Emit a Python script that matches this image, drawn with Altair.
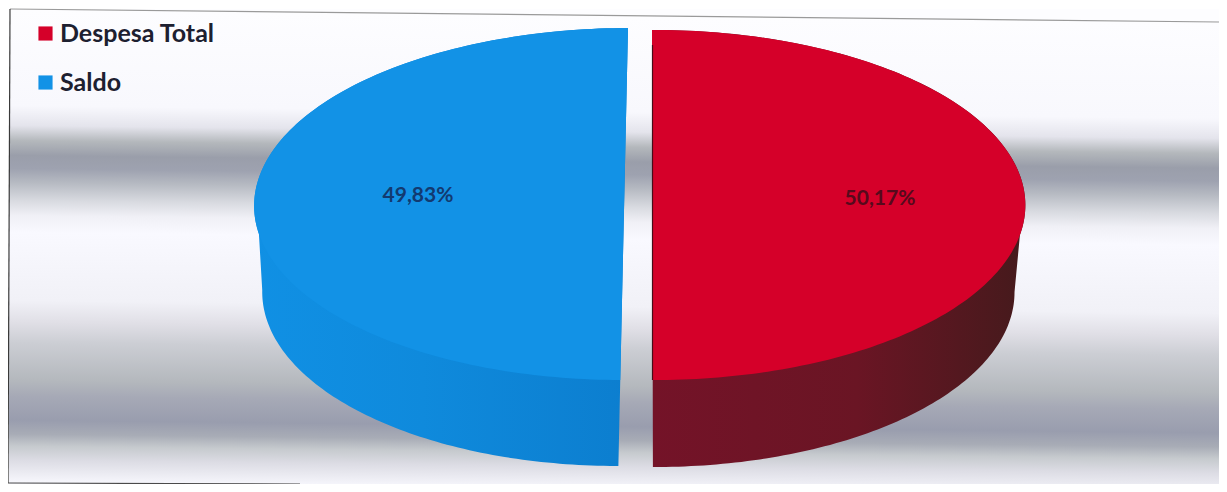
import numpy as np
import pandas as pd
import altair as alt

# --- values
categories = ["Despesa Total", "Saldo"]
shares = [50.17, 49.83]
labels = ["50,17%", "49,83%"]
top_colors = ["#d50029", "#1292e6"]
legend_font = "Lato"

W, H = 1211, 476
X0, Y0 = 8, 8
xs = alt.Scale(domain=[X0, X0 + W], nice=False, zero=False)
ys = alt.Scale(domain=[Y0 + H, Y0], nice=False, zero=False)
X = lambda f: alt.X(f, type="quantitative", scale=xs, axis=None)
Y = lambda f: alt.Y(f, type="quantitative", scale=ys, axis=None)

# geometry of the exploded, tilted pie (image pixel units)
geom = {
    "Despesa Total": dict(sign=1, cx=654, a=371, cy=205, b=175, cyb=292, ab=360, cxb=654, shear=0.002, label=(880, 199)),
    "Saldo": dict(sign=-1, cx=630, a=372, cy=204, b=176, cyb=290, ab=360, cxb=628, shear=-0.022, label=(418, 196)),
}


def slice_tables(cat, share):
    g = geom[cat]
    half = np.pi * share / 100
    y_ref = g["cy"] - g["b"]
    t = np.linspace(-half, half, 161)
    # top face
    y = g["cy"] + g["b"] * np.sin(t)
    sh = lambda v: g["shear"] * (v - y_ref)
    x = g["cx"] + g["sign"] * g["a"] * np.cos(t) + sh(y)
    end = g["cx"] + g["sign"] * g["a"] * np.cos(half)
    top = pd.DataFrame({"categoria": cat, "y": y, "x": x, "x2": end + sh(y)})
    # silhouette of face + side wall
    t1 = np.linspace(-half, np.arcsin(30 / g["b"]), 90)
    y1 = g["cy"] + g["b"] * np.sin(t1)
    x1 = g["cx"] + g["sign"] * g["a"] * np.cos(t1) + sh(y1)
    t2 = np.linspace(0, half, 90)
    y2 = g["cyb"] + g["b"] * np.sin(t2)
    x2 = g["cxb"] + g["sign"] * g["ab"] * np.cos(t2) + sh(y2)
    yy = np.r_[y1, y2]
    xx = np.r_[x1, x2]
    wall = pd.DataFrame({"categoria": cat, "y": yy, "x": xx, "x2": end + sh(yy)})
    return top, wall


tops, walls = zip(*(slice_tables(c, s) for c, s in zip(categories, shares)))

# --- background bands
band_stops = [
    (9, "#fdfdff"), (105, "#f8f8fd"), (125, "#e4e4ec"), (140, "#b4b8bc"), (155, "#9a9eaa"),
    (168, "#9ea2b0"), (182, "#b6bac2"), (200, "#d8dae0"), (215, "#f0f0f6"), (232, "#f9f9ff"),
    (300, "#f1f1f7"), (322, "#e0dfe6"), (342, "#ccced4"), (380, "#b4b8bd"), (396, "#a6a9b6"),
    (420, "#999dae"), (434, "#a8acb6"), (446, "#c6cace"), (460, "#dcdce4"), (480, "#f4f4fa"), (484, "#f9f9ff"),
]
bg_grad = alt.Gradient(
    gradient="linear", x1=0.027, x2=0, y1=0, y2=1,
    stops=[alt.GradientStop(offset=(y - Y0) / H, color=c) for y, c in band_stops],
)
bg = alt.Chart(pd.DataFrame({"a": [0]})).mark_rect(color=bg_grad).encode(
    x=alt.value(1), x2=alt.value(W), y=alt.value(1), y2=alt.value(H)
)

# frame drawn on three sides
frame_df = pd.DataFrame({
    "x": [10, 10, 8], "y": [9, 9, 483], "x1": [1219, 8, 300], "y1": [22, 483, 484],
    "c": ["#9a9a9a", "#3a3a3a", "#4a4a4a"],
})
frame = alt.Chart(frame_df).mark_rule(strokeWidth=1.2).encode(
    x=X("x"), y=Y("y"), x2="x1:Q", y2="y1:Q", color=alt.Color("c:N", scale=None)
)

# side walls
wall_red = alt.Chart(walls[0]).mark_area(
    orient="horizontal",
    color=alt.Gradient(gradient="linear", x1=0, x2=1, y1=0, y2=0,
                       stops=[alt.GradientStop(offset=0, color="#741328"),
                              alt.GradientStop(offset=0.55, color="#6a1524"),
                              alt.GradientStop(offset=1, color="#451a1c")]),
).encode(y=Y("y"), x=X("x"), x2="x2:Q")
wall_blue = alt.Chart(walls[1]).mark_area(
    orient="horizontal",
    color=alt.Gradient(gradient="linear", x1=0, x2=1, y1=0, y2=0,
                       stops=[alt.GradientStop(offset=0, color="#1090e4"),
                              alt.GradientStop(offset=0.45, color="#0f8adc"),
                              alt.GradientStop(offset=1, color="#0c7ecf")]),
).encode(y=Y("y"), x=X("x"), x2="x2:Q")

# top faces, carrying the legend
faces = alt.Chart(pd.concat(tops)).mark_area(orient="horizontal").encode(
    y=Y("y"), x=X("x"), x2="x2:Q",
    color=alt.Color(
        "categoria:N",
        scale=alt.Scale(domain=categories, range=top_colors),
        legend=alt.Legend(
            title=None, orient="none", legendX=25, legendY=13,
            symbolType="square", symbolSize=200, symbolStrokeWidth=0,
            labelFont=legend_font, labelFontWeight="bold", labelFontSize=25,
            labelColor="#1d2030", labelLimit=400, labelOffset=2, rowPadding=23,
        ),
    ),
)

# thin dark edge on the red slice
edge_df = pd.DataFrame({"x": [652.5], "y": [45], "y1": [380]})
edge = alt.Chart(edge_df).mark_rule(color="#4a0a18", strokeWidth=1.2).encode(
    x=X("x"), y=Y("y"), y2="y1:Q"
)

label_df = pd.DataFrame({
    "t": labels,
    "x": [geom[c]["label"][0] for c in categories],
    "y": [geom[c]["label"][1] for c in categories],
    "c": ["#560a1c", "#123a70"],
})
text = alt.Chart(label_df).mark_text(font="Lato", fontWeight="bold", fontSize=21, align="center", baseline="middle").encode(
    x=X("x"), y=Y("y"), text="t:N", color=alt.Color("c:N", scale=None)
)

chart = alt.layer(bg, frame, wall_red, wall_blue, faces, edge, text).resolve_scale(color="independent").properties(
    width=W, height=H, padding=0, autosize=alt.AutoSizeParams(type="none"), background="white"
).configure_view(stroke=None)

chart.save("out.html", embed_options={"renderer": "svg", "actions": False})
